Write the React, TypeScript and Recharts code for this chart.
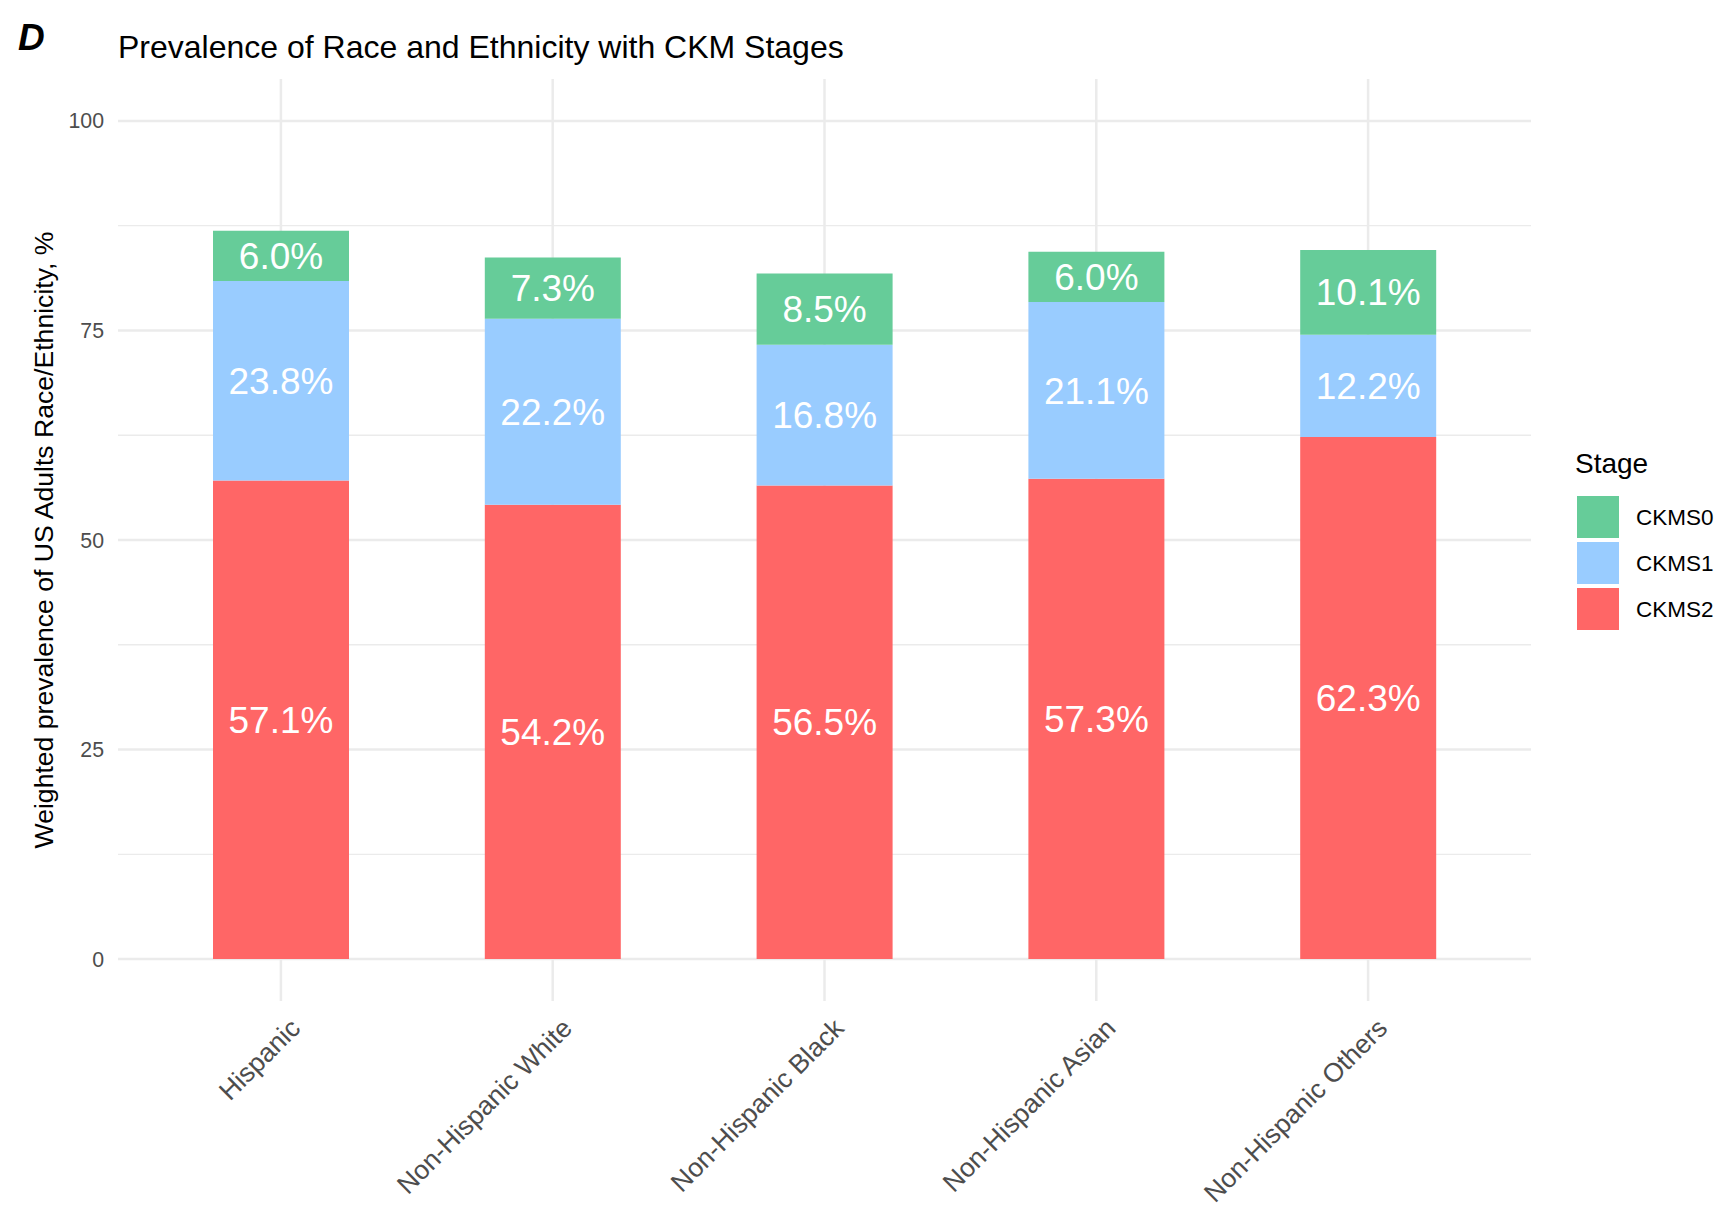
import React from 'react';
import { BarChart, Bar, XAxis, YAxis, CartesianGrid, LabelList } from 'recharts';

const categories = ['Hispanic', 'Non-Hispanic White', 'Non-Hispanic Black', 'Non-Hispanic Asian', 'Non-Hispanic Others'];
const ckms2 = [57.1, 54.2, 56.5, 57.3, 62.3];
const ckms1 = [23.8, 22.2, 16.8, 21.1, 12.2];
const ckms0 = [6.0, 7.3, 8.5, 6.0, 10.1];
const yTicks = [0, 25, 50, 75, 100];
const yMinorTicks = [12.5, 37.5, 62.5, 87.5];
const legendKeys = ['CKMS0', 'CKMS1', 'CKMS2'];
const colors: Record<string, string> = { CKMS0: '#66CC99', CKMS1: '#99CCFF', CKMS2: '#FF6666' };
const titleText = 'Prevalence of Race and Ethnicity with CKM Stages';
const yTitle = 'Weighted prevalence of US Adults Race/Ethnicity, %';
const panelTag = 'D';
const legendTitle = 'Stage';

const data = categories.map((c, i) => ({ name: c, CKMS2: ckms2[i], CKMS1: ckms1[i], CKMS0: ckms0[i] }));

const FONT = '"Liberation Sans", Arial, Helvetica, sans-serif';

const XTick = (props: any) => {
  const { x, y, payload } = props;
  return (
    <g transform={`translate(${x + 7},${y + 15})`}>
      <text transform="rotate(-45)" textAnchor="end" dy="0.74em" fill="#4D4D4D" fontSize={26.5} fontFamily={FONT}>
        {payload.value}
      </text>
    </g>
  );
};

const fmt = (v: any) => `${Number(v).toFixed(1)}%`;

export default function App() {
  return (
    <div style={{ position: 'absolute', left: 0, top: 0, width: 1729, height: 1210, background: '#fff', fontFamily: FONT }}>
      <BarChart
        width={1729}
        height={1210}
        data={data}
        margin={{ top: 79, right: 198, bottom: 9, left: 58 }}
        barSize={136}
      >
        <CartesianGrid horizontalValues={yMinorTicks} vertical={false} syncWithTicks stroke="#EBEBEB" strokeWidth={1.3} />
        <CartesianGrid syncWithTicks stroke="#EBEBEB" strokeWidth={2.5} />
        <XAxis
          dataKey="name"
          type="category"
          padding={{ left: 27, right: 27 }}
          axisLine={false}
          tickLine={false}
          tickSize={0}
          tickMargin={0}
          height={200}
          interval={0}
          tick={<XTick />}
        />
        <YAxis
          type="number"
          domain={[-5, 105]}
          ticks={yTicks}
          allowDataOverflow
          axisLine={false}
          tickLine={false}
          tickSize={0}
          tickMargin={14}
          width={60}
          tick={{ fill: '#4D4D4D', fontSize: 21.3, fontFamily: FONT }}
        />
        <Bar dataKey="CKMS2" stackId="a" fill={colors.CKMS2} isAnimationActive={false}>
          <LabelList dataKey="CKMS2" position="center" formatter={fmt} fill="#FFFFFF" stroke="none" fontSize={37} fontFamily={FONT} />
        </Bar>
        <Bar dataKey="CKMS1" stackId="a" fill={colors.CKMS1} isAnimationActive={false}>
          <LabelList dataKey="CKMS1" position="center" formatter={fmt} fill="#FFFFFF" stroke="none" fontSize={37} fontFamily={FONT} />
        </Bar>
        <Bar dataKey="CKMS0" stackId="a" fill={colors.CKMS0} isAnimationActive={false}>
          <LabelList dataKey="CKMS0" position="center" formatter={fmt} fill="#FFFFFF" stroke="none" fontSize={37} fontFamily={FONT} />
        </Bar>
      </BarChart>
      <svg width={1729} height={1210} style={{ position: 'absolute', left: 0, top: 0, pointerEvents: 'none' }}>
        <text x={18} y={50} fontSize={37} fontWeight="bold" fontStyle="italic" fill="#000" fontFamily={FONT}>
          {panelTag}
        </text>
        <text x={118} y={58} fontSize={32} fill="#000" fontFamily={FONT}>
          {titleText}
        </text>
        <text
          x={44}
          y={540}
          transform="rotate(-90 44 540)"
          textAnchor="middle"
          dominantBaseline="central"
          fontSize={26.6}
          fill="#000"
          fontFamily={FONT}
        >
          {yTitle}
        </text>
        <text x={1575} y={473} fontSize={28} fill="#000" fontFamily={FONT}>
          {legendTitle}
        </text>
        {legendKeys.map((k, i) => (
          <g key={k}>
            <rect x={1577} y={496 + i * 46} width={42} height={42} fill={colors[k]} />
            <text x={1636} y={517 + i * 46} dominantBaseline="central" fontSize={22.5} fill="#000" fontFamily={FONT}>
              {k}
            </text>
          </g>
        ))}
      </svg>
    </div>
  );
}
